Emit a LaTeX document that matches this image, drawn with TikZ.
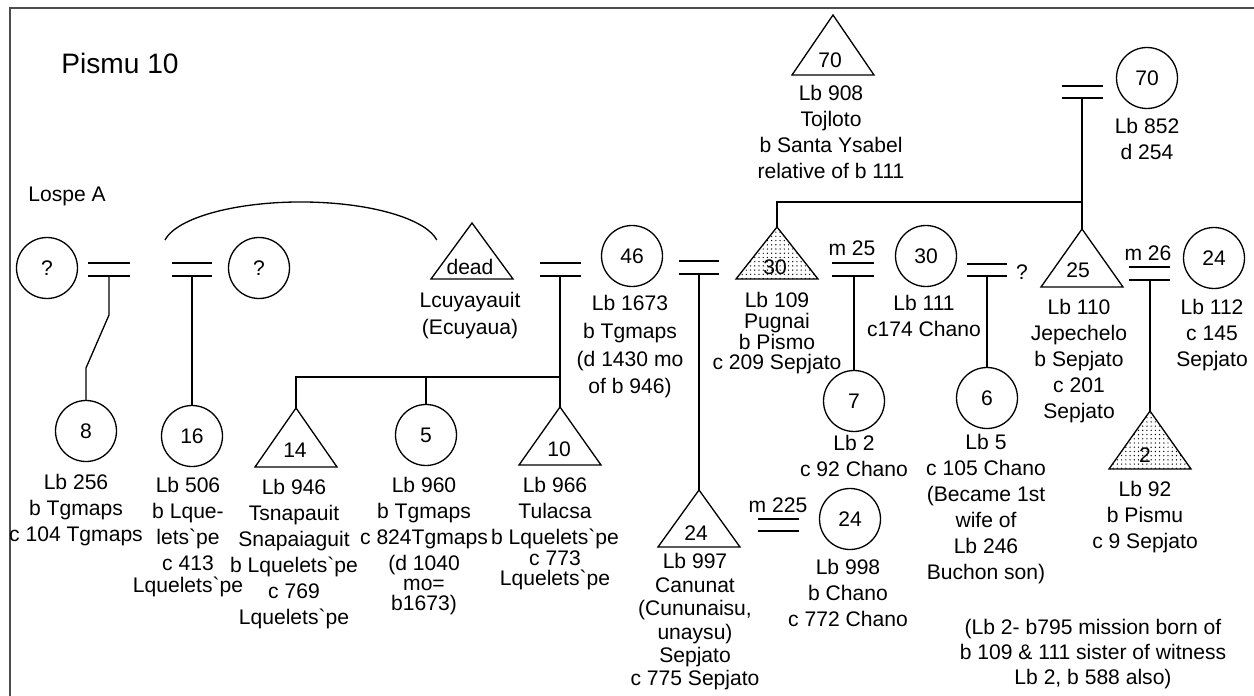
\documentclass[tikz,border=0pt]{standalone}
\usepackage{fontspec}
\setmainfont{Liberation Sans}
\usetikzlibrary{patterns.meta}

\begin{document}
\begin{tikzpicture}[x=0.02cm,y=-0.02cm,line width=0.75pt,font=\fontsize{12}{14.7}\selectfont]
\tikzstyle{ci}=[draw,circle,minimum size=1.22cm,inner sep=0pt]
\tikzstyle{lb}=[align=center,anchor=north,inner sep=0pt]
\tikzstyle{num}=[inner sep=0pt]
\tikzstyle{dts}=[pattern={Dots[distance=2.4pt,radius=0.4pt]}]
\useasboundingbox (0,0) rectangle (1254,696);
\draw[line width=1.4pt,black!70] (10,696) -- (10,8) -- (1254,8);
\node (title) at (120,63) {\fontsize{16}{19}\selectfont Pismu 10};
\node (lospe) at (67,196) {Lospe A};
% parents of 110
\coordinate (t908) at (833,15);
\draw (t908) -- ++(41,60) -- ++(-82,0) -- cycle;
\node[num] (n908) at (830,60) {70};
\node[lb] (l908) at (831,85) {Lb 908\\Tojloto\\b Santa Ysabel\\relative of b 111};
\node[ci] (c70) at (1147,78) {70};
\node[lb] (l852) at (1147,118) {Lb 852\\d 254};
\draw (1062,86) -- (1103,86) (1062,98) -- (1103,98);
\coordinate (m70) at (1082,98);
% Lospe A couples
\node[ci] (q1) at (47,268) {?};
\draw (88,263) -- (130,263) (88,276) -- (130,276);
\coordinate (m1) at (109,276);
\node[ci] (c8) at (86,431) {8};
\draw (m1) -- (109,315) -- (86,368) -- (c8);
\node[lb] (l256) at (76,474) {Lb 256\\b Tgmaps\\c 104 Tgmaps};
\draw (172,263) -- (212,263) (172,276) -- (212,276);
\coordinate (m2) at (192,276);
\node[ci] (q2) at (259,268) {?};
\node[ci] (c16) at (192,436) {16};
\draw (m2) -- (c16);
\node[lb] (l506) at (188,477) {Lb 506\\b Lque-\\lets\textasciigrave pe\\c 413\\[-2.3pt]Lquelets\textasciigrave pe};
\coordinate (a1) at (165,240);
\draw (a1) arc[start angle=190,end angle=350,x radius=138,y radius=46];
% dead man and 46
\coordinate (tdead) at (472,223);
\draw (tdead) -- ++(41,56) -- ++(-82,0) -- cycle;
\node[num] (ndead) at (470,267) {dead};
\node[lb,font=\fontsize{12}{15.3}\selectfont] (ldead) at (470,292) {Lcuyayauit\\(Ecuyaua)};
\draw (540,263) -- (581,263) (540,276) -- (581,276);
\coordinate (m3) at (560,276);
\node[ci] (c46) at (632,256) {46};
\node[lb,font=\fontsize{12}{15.7}\selectfont] (l1673) at (630,295) {Lb 1673\\b Tgmaps\\(d 1430 mo\\of b 946)};
\coordinate (s1) at (560,377);
\coordinate (t14) at (296,408);
\coordinate (t10) at (560,407);
\node[ci] (c5) at (426,435) {5};
\draw (m3) -- (t10);
\draw (t14) |- (s1);
\draw (c5.north) -- (c5.north |- s1);
\draw (t14) -- ++(41,59) -- ++(-82,0) -- cycle;
\node[num] (n14) at (295,450) {14};
\draw (t10) -- ++(41,58) -- ++(-82,0) -- cycle;
\node[num] (n10) at (559,449) {10};
\node[lb] (l946) at (294,479) {Lb 946\\Tsnapauit\\Snapaiaguit\\b Lquelets\textasciigrave pe\\c 769\\Lquelets\textasciigrave pe};
\node[lb] (l960) at (424,477) {Lb 960\\b Tgmaps\\c 824Tgmaps\\(d 1040\\[-3.4pt]mo=\\[-3.4pt]b1673)};
\node[lb] (l966) at (555,477) {Lb 966\\Tulacsa\\b Lquelets\textasciigrave pe\\[-3pt]c 773\\[-3pt]Lquelets\textasciigrave pe};
% 46 and 997
\draw (679,261) -- (719,261) (679,274) -- (719,274);
\coordinate (m4) at (699,274);
\coordinate (t24) at (699,490);
\draw (m4) -- (t24);
\draw (t24) -- ++(41,57) -- ++(-82,0) -- cycle;
\node[num] (n24) at (696,533) {24};
\node[lb,font=\fontsize{12}{13.3}\selectfont] (l997) at (695,553) {Lb 997\\Canunat\\(Cununaisu,\\unaysu)\\Sepjato\\c 775 Sepjato};
\draw (758,519) -- (799,519) (758,531) -- (799,531);
\node (m225) at (778,505) {m 225};
\node[ci] (c24a) at (850,519) {24};
\node[lb] (l998) at (848,559) {Lb 998\\b Chano\\c 772 Chano};
% 109 and 111
\coordinate (t30) at (777,227);
\coordinate (s2) at (1082,202);
\coordinate (t25) at (1082,229);
\draw (t30) |- (s2);
\draw (m70) -- (t25);
\draw[dts] (t30) -- ++(41,52) -- ++(-82,0) -- cycle;
\node[num] (n30) at (775,267) {30};
\node[lb,font=\fontsize{12}{11.7}\selectfont] (l109) at (777,292) {Lb 109\\Pugnai\\b Pismo\\c 209 Sepjato};
\draw (832,263) -- (874,263) (832,276) -- (874,276);
\node (m25) at (852,248) {m 25};
\coordinate (m6) at (854,276);
\node[ci] (c7) at (854,401) {7};
\draw (m6) -- (c7);
\node[lb] (l2) at (854,435) {Lb 2\\c 92 Chano};
\node[ci] (c30) at (926,256) {30};
\node[lb] (l111) at (924,295) {Lb 111\\c174 Chano};
\draw (967,264) -- (1007,264) (967,276) -- (1007,276);
\node (qm) at (1022,272) {?};
\coordinate (m7) at (987,276);
\node[ci] (c6) at (987,398) {6};
\draw (m7) -- (c6);
\node[lb] (l5) at (986,434) {Lb 5\\c 105 Chano\\(Became 1st\\wife of\\Lb 246\\Buchon son)};
% 110 and 112
\draw (t25) -- ++(41,58) -- ++(-82,0) -- cycle;
\node[num] (n25) at (1078,270) {25};
\node[lb] (l110) at (1079,299) {Lb 110\\Jepechelo\\b Sepjato\\c 201\\Sepjato};
\draw (1129,267) -- (1170,267) (1129,280) -- (1170,280);
\node (m26) at (1148,253) {m 26};
\node[ci] (c24b) at (1214,258) {24};
\node[lb] (l112) at (1212,299) {Lb 112\\c 145\\Sepjato};
\coordinate (m8) at (1150,280);
\coordinate (t2) at (1150,411);
\draw (m8) -- (t2);
\draw[dts] (t2) -- ++(41,58) -- ++(-82,0) -- cycle;
\node[num] (n2) at (1145,455) {2};
\node[lb] (l92) at (1145,481) {Lb 92\\b Pismu\\c 9 Sepjato};
\node[lb,font=\fontsize{12}{14.2}\selectfont] (note) at (1093,619) {(Lb 2- b795 mission born of\\b 109 \& 111 sister of witness\\Lb 2, b 588 also)};
\end{tikzpicture}
\end{document}
